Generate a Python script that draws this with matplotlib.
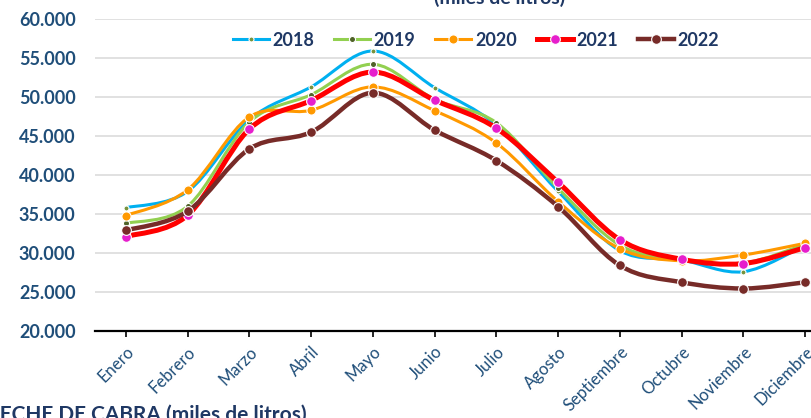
import matplotlib
matplotlib.use("Agg")
import matplotlib.pyplot as plt
from matplotlib.path import Path
from matplotlib.patches import PathPatch
from matplotlib.lines import Line2D
from matplotlib.ticker import FuncFormatter, MultipleLocator

plt.rcParams["font.family"] = ["Lato", "DejaVu Sans"]

months = ["Enero", "Febrero", "Marzo", "Abril", "Mayo", "Junio", "Julio",
          "Agosto", "Septiembre", "Octubre", "Noviembre", "Diciembre"]

y2018 = [35800, 37900, 47100, 51300, 55900, 51200, 46400, 37900, 30300, 29100, 27600, 31000]
y2019 = [33800, 36000, 46800, 50300, 54200, 49700, 46700, 38300, 31000, 29100, 28700, 31100]
y2020 = [34800, 38100, 47450, 48300, 51300, 48250, 44100, 36600, 30550, 29000, 29750, 31250]
y2021 = [32100, 34850, 45900, 49550, 53200, 49600, 46000, 39050, 31700, 29200, 28650, 30700]
y2022 = [32900, 35350, 43350, 45500, 50550, 45750, 41850, 35950, 28400, 26250, 25450, 26250]

series = [
    # label, values, line colour, line width, marker colour, marker size
    ("2018", y2018, "#00B0F0", 2.2, "#77933C", 3.6),
    ("2019", y2019, "#92D050", 2.2, "#4F6228", 4.4),
    ("2020", y2020, "#FF9900", 2.2, "#FF9900", 6.6),
    ("2021", y2021, "#FF0000", 3.6, "#E61ECC", 7.0),
    ("2022", y2022, "#772B28", 3.2, "#772B28", 7.0),
]

NAVY = "#1F3864"
TICK_BLUE = "#1F4E79"


def smooth_path(xs, ys):
    """Bezier path through the points, Excel-style smoothing."""
    pts = list(zip(xs, ys))
    n = len(pts)
    verts = [pts[0]]
    codes = [Path.MOVETO]
    for i in range(n - 1):
        p0 = pts[i - 1] if i > 0 else pts[i]
        p1 = pts[i]
        p2 = pts[i + 1]
        p3 = pts[i + 2] if i + 2 < n else pts[i + 1]
        c1 = (p1[0] + (p2[0] - p0[0]) / 6.0, p1[1] + (p2[1] - p0[1]) / 6.0)
        c2 = (p2[0] - (p3[0] - p1[0]) / 6.0, p2[1] - (p3[1] - p1[1]) / 6.0)
        verts += [c1, c2, p2]
        codes += [Path.CURVE4] * 3
    return Path(verts, codes)


fig = plt.figure(figsize=(8.12, 4.18), dpi=100)
ax = fig.add_axes([0.117, 0.2081, 0.9126, 0.7464])

x = list(range(len(months)))
handles = []
for k, (label, vals, lc, lw, mc, ms) in enumerate(series):
    patch = PathPatch(smooth_path(x, vals), facecolor="none", edgecolor=lc,
                      lw=lw, capstyle="round", joinstyle="round", zorder=3 + 2 * k)
    ax.add_patch(patch)
    ax.plot(x, vals, linestyle="none", marker="o", markersize=ms,
            markerfacecolor=mc, markeredgecolor="white", markeredgewidth=0.8,
            zorder=4 + 2 * k)
    handles.append(Line2D([], [], color=lc, lw=lw, marker="o", markersize=ms,
                          markerfacecolor=mc, markeredgecolor="white",
                          markeredgewidth=0.8, label=label))

ax.set_xlim(-0.5, 11.5)
ax.set_ylim(20000, 60000)
ax.yaxis.set_major_locator(MultipleLocator(5000))
ax.yaxis.set_major_formatter(FuncFormatter(lambda v, p: f"{int(v):,}".replace(",", ".")))
ax.grid(axis="y", color="#D9D9D9", lw=1.1, zorder=0)
ax.set_axisbelow(True)

for side in ("top", "right", "left"):
    ax.spines[side].set_visible(False)
ax.spines["bottom"].set_color("black")
ax.spines["bottom"].set_linewidth(1.6)

ax.set_xticks(x)
ax.set_xticklabels(months, rotation=45, ha="right", va="top",
                   rotation_mode="anchor", color=TICK_BLUE, fontsize=12)
ax.tick_params(axis="x", length=4, width=1.2, color="black", pad=5)
ax.tick_params(axis="y", length=0, pad=14, labelcolor=TICK_BLUE, labelsize=13)
for lbl in ax.get_yticklabels():
    lbl.set_fontweight("bold")

leg = ax.legend(handles=handles, loc="center", bbox_to_anchor=(476 / 812, 1 - 40 / 418),
                bbox_transform=fig.transFigure, ncol=5, frameon=False,
                handlelength=2.0, handletextpad=0.2, columnspacing=1.1,
                prop={"weight": "bold", "size": 13})
for t in leg.get_texts():
    t.set_color(NAVY)

fig.text(500 / 812, 0.990, "(miles de litros)", ha="center", va="baseline",
         fontsize=14, fontweight="bold", color=NAVY)
fig.text(307 / 812, -0.006, "LECHE DE CABRA (miles de litros)", ha="right",
         va="baseline", fontsize=15, fontweight="bold", color=NAVY)

fig.savefig("out.png", dpi=100)
